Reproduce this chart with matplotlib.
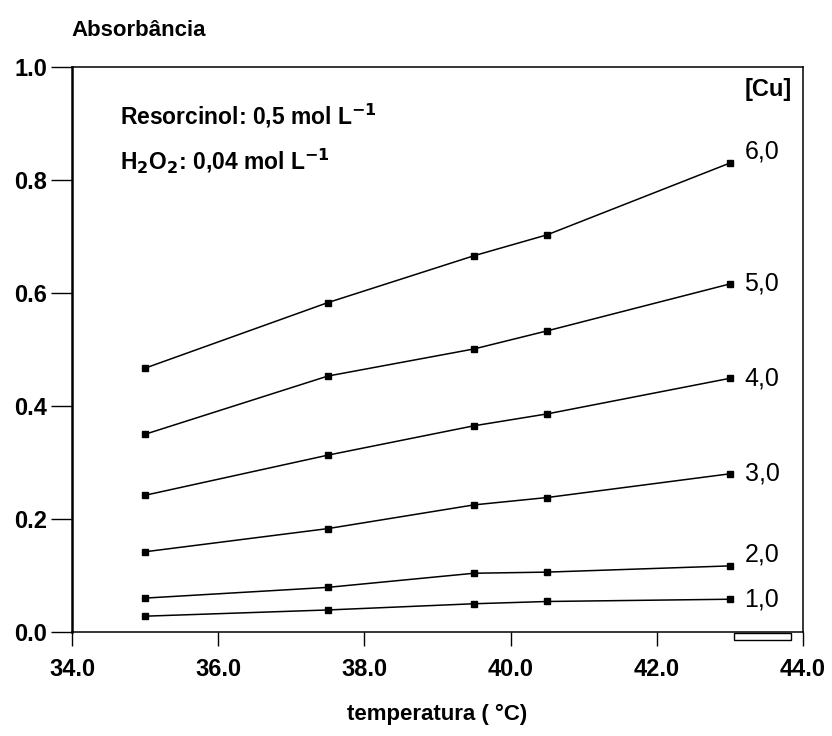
import matplotlib.pyplot as plt
from matplotlib.patches import Rectangle

plt.rcParams['font.family'] = ['Liberation Sans', 'DejaVu Sans']

temperatura = [35.0, 37.5, 39.5, 40.5, 43.0]
cu_labels = ['1,0', '2,0', '3,0', '4,0', '5,0', '6,0']
abs_cu1 = [0.028, 0.039, 0.050, 0.054, 0.058]
abs_cu2 = [0.060, 0.079, 0.104, 0.106, 0.117]
abs_cu3 = [0.142, 0.183, 0.225, 0.238, 0.280]
abs_cu4 = [0.242, 0.313, 0.365, 0.386, 0.449]
abs_cu5 = [0.350, 0.453, 0.501, 0.533, 0.616]
abs_cu6 = [0.467, 0.583, 0.666, 0.703, 0.830]
series = [abs_cu1, abs_cu2, abs_cu3, abs_cu4, abs_cu5, abs_cu6]
label_shift = [0.0, 0.02, 0.0, 0.0, 0.0, 0.02]

x_ticks = [34.0, 36.0, 38.0, 40.0, 42.0, 44.0]
y_ticks = [0.0, 0.2, 0.4, 0.6, 0.8, 1.0]

fig = plt.figure(figsize=(8.32, 7.36), dpi=100)
ax = fig.add_axes([72 / 832, 1 - 632 / 736, 731 / 832, 565 / 736])

for vals, lab, dy in zip(series, cu_labels, label_shift):
    ax.plot(temperatura, vals, color='black', lw=1.1, marker='s', markersize=4)
    ax.text(43.2, vals[-1] + dy, lab, fontsize=18, ha='left', va='center')

ax.set_xlim(34, 44)
ax.set_ylim(0, 1.0)
ax.set_xticks(x_ticks)
ax.set_yticks(y_ticks)
ax.set_xticklabels([f'{v:.1f}' for v in x_ticks], fontsize=17, fontweight='bold')
ax.set_yticklabels([f'{v:.1f}' for v in y_ticks], fontsize=17, fontweight='bold')
ax.tick_params(axis='x', direction='out', length=10, width=1, pad=9)
ax.tick_params(axis='y', direction='out', length=15, width=1, pad=3)
for s in ax.spines.values():
    s.set_linewidth(1.1)
ax.spines['left'].set_linewidth(1.8)

ax.set_xlabel('temperatura ( °C)', fontsize=16, fontweight='bold', labelpad=16)
fig.text(71 / 832, 1 - 30 / 736, 'Absorbância', fontsize=16, fontweight='bold',
         ha='left', va='center')

ax.text(34.66, 0.913, 'Resorcinol: 0,5 mol L$^{\\mathbf{-1}}$', fontsize=16.5,
        fontweight='bold', va='center')
ax.text(34.66, 0.835, 'H$_{\\mathbf{2}}$O$_{\\mathbf{2}}$: 0,04 mol L$^{\\mathbf{-1}}$',
        fontsize=16.5, fontweight='bold', va='center')
ax.text(43.2, 0.96, '[Cu]', fontsize=17, fontweight='bold', ha='left', va='center')

# small box under the axis near 43-44
ax.add_patch(Rectangle((43.05, -0.014), 0.78, 0.013, transform=ax.transData,
                       facecolor='white', edgecolor='black', lw=1, clip_on=False))

fig.savefig('out.png', dpi=100)
